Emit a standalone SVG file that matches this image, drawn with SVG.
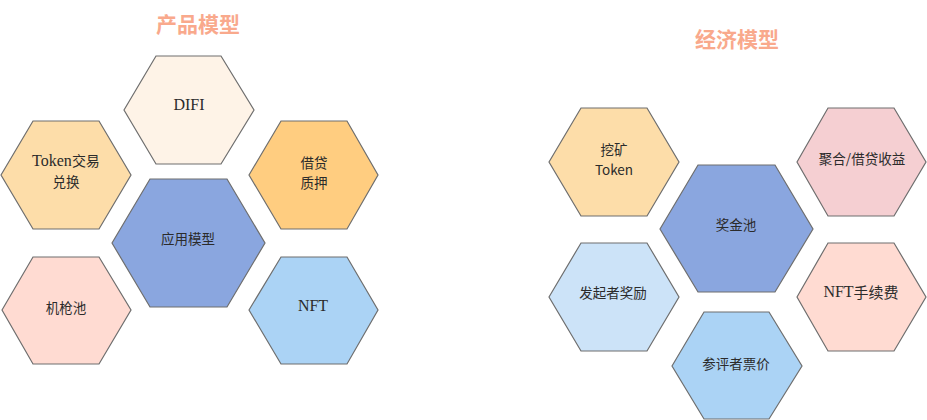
<svg xmlns="http://www.w3.org/2000/svg" width="927" height="420" viewBox="0 0 927 420">
<style>
.hex{stroke:#6e6e6e;stroke-width:1.2}
.t{font-family:"Noto Sans CJK SC","Liberation Sans",sans-serif;font-size:13.5px;fill:#2b2b2b;text-anchor:middle;dominant-baseline:central}
.s{font-family:"Liberation Serif","Noto Sans CJK SC",serif;font-size:16px;fill:#2b2b2b;text-anchor:middle;dominant-baseline:central}
.title{font-family:"Noto Sans CJK SC",sans-serif;font-size:21px;font-weight:bold;fill:#F9A98C;text-anchor:middle}
</style>
<rect width="927" height="420" fill="#ffffff"/>
<text class="title" x="198" y="32">产品模型</text>
<text class="title" x="737" y="47">经济模型</text>

<g id="difi">
<polygon class="hex" fill="#FEF3E7" points="124,110 156,56 221,56 254,110 221,164 156,164"/>
<text class="s" x="189" y="104">DIFI</text>
</g>
<g id="token-swap">
<polygon class="hex" fill="#FDDDA9" points="1,175 33,121 99,121 131,175 99,229 33,229"/>
<text class="s" x="66" y="160" font-size="15">Token<tspan font-family="Noto Sans CJK SC" font-size="14">交易</tspan></text>
<text class="t" x="66" y="181" font-size="15">兑换</text>
</g>
<g id="lending">
<polygon class="hex" fill="#FFCD80" points="249,175 281,121 347,121 378,175 347,229 281,229"/>
<text class="t" x="314" y="162">借贷</text>
<text class="t" x="314" y="182">质押</text>
</g>
<g id="app-model">
<polygon class="hex" fill="#8AA6DF" points="112,243 150,179 227,179 265,243 227,307 150,307"/>
<text class="t" x="188" y="238">应用模型</text>
</g>
<g id="pool">
<polygon class="hex" fill="#FFDBD2" points="2,310 33,257 99,257 131,310 99,364 33,364"/>
<text class="t" x="66" y="307">机枪池</text>
</g>
<g id="nft">
<polygon class="hex" fill="#ABD3F5" points="249,310 281,257 347,257 378,310 347,364 281,364"/>
<text class="s" x="313" y="305">NFT</text>
</g>

<g id="mining">
<polygon class="hex" fill="#FDDDA9" points="549,162 581,108 647,108 679,162 647,216 581,216"/>
<text class="t" x="614" y="149" font-size="13">挖矿</text>
<text class="t" x="614" y="169" font-size="13">Token</text>
</g>
<g id="yield">
<polygon class="hex" fill="#F5CFD2" points="797,162 828,108 894,108 926,162 894,216 828,216"/>
<text class="t" x="862" y="158">聚合/借贷收益</text>
</g>
<g id="prize-pool">
<polygon class="hex" fill="#8AA6DF" points="660,229 698,165 775,165 813,229 775,292 698,292"/>
<text class="t" x="736" y="224">奖金池</text>
</g>
<g id="initiator">
<polygon class="hex" fill="#CCE3F8" points="549,297 581,243 647,243 679,297 647,351 581,351"/>
<text class="t" x="613" y="292">发起者奖励</text>
</g>
<g id="nft-fee">
<polygon class="hex" fill="#FFDBD2" points="797,297 828,243 894,243 926,297 894,351 828,351"/>
<text class="s" x="861" y="291">NFT<tspan font-family="Noto Sans CJK SC" font-size="15">手续费</tspan></text>
</g>
<g id="ticket">
<polygon class="hex" fill="#ABD3F5" points="672,366 704,312 769,312 802,366 769,419 704,419"/>
<text class="t" x="736" y="363">参评者票价</text>
</g>
<g id="connectors"></g>
</svg>
